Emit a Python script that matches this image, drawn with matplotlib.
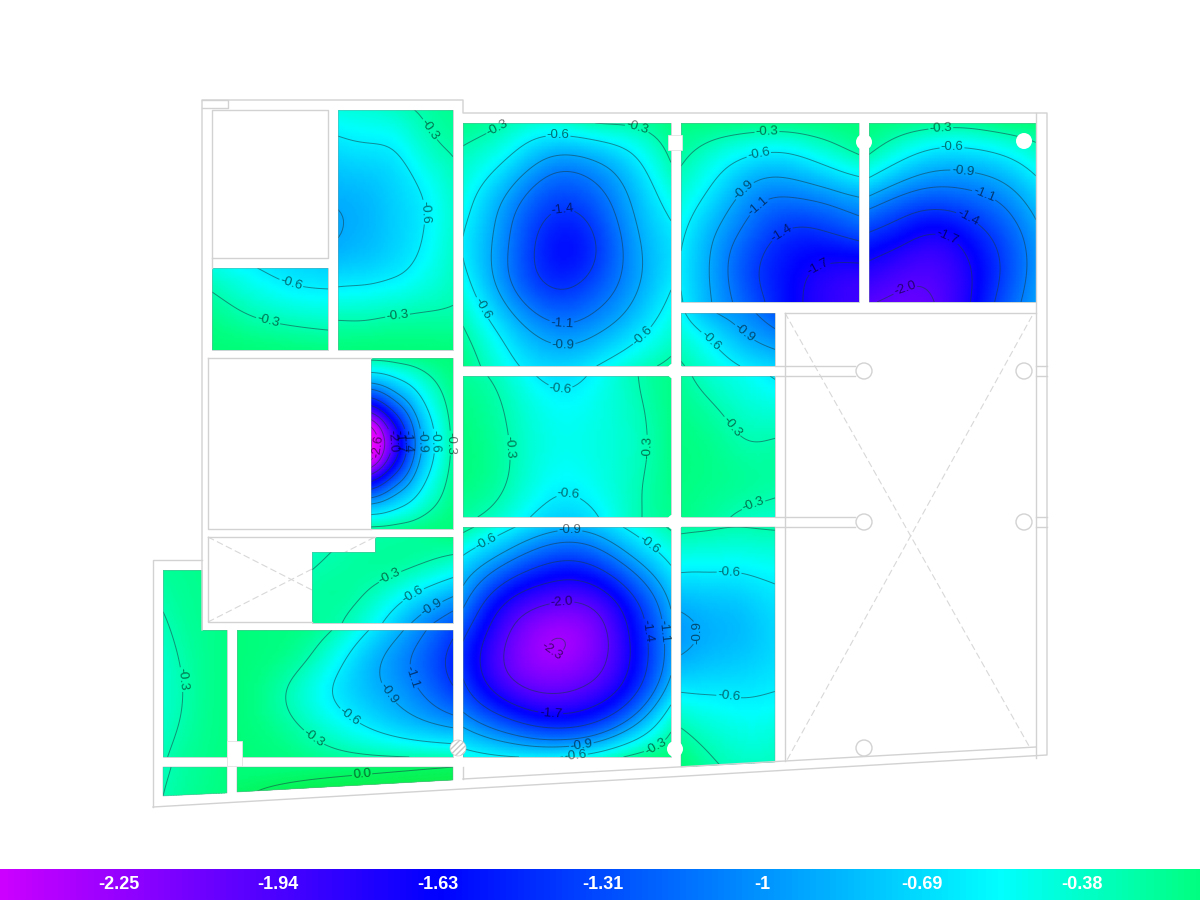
"""
Deformada de losas - plano de planta con curvas de nivel por pano
Cada pano tiene su propia malla de valores leida de la imagen.
"""
import numpy as np
import matplotlib
matplotlib.use('Agg')
import matplotlib.pyplot as plt
import matplotlib.tri as mtri
from matplotlib.colors import LinearSegmentedColormap, Normalize
from matplotlib.patches import Polygon, Circle, Rectangle

plt.rcParams['font.family'] = ['Liberation Sans', 'DejaVu Sans']

# =============================================
# 1. DATOS
# =============================================
LEVELS = [-2.9, -2.6, -2.3, -2.0, -1.7, -1.4, -1.1, -0.9, -0.6, -0.3, 0.0]
CBAR_TICKS = [-2.25, -1.94, -1.63, -1.31, -1.0, -0.69, -0.38]
CBAR_LABELS = ['-2.25', '-1.94', '-1.63', '-1.31', '-1', '-0.69', '-0.38']

A_VALUES = [[-0.45, -0.42, -0.36, -0.27, -0.20],
            [-0.68, -0.64, -0.60, -0.40, -0.28],
            [-0.85, -0.82, -0.72, -0.58, -0.38],
            [-0.92, -0.85, -0.74, -0.60, -0.40],
            [-0.75, -0.72, -0.65, -0.52, -0.36],
            [-0.38, -0.38, -0.34, -0.31, -0.29],
            [-0.12, -0.10, -0.10, -0.10, -0.10]]
B_VALUES = [[-0.45, -0.58, -0.68, -0.72],
            [-0.28, -0.42, -0.53, -0.56],
            [-0.17, -0.26, -0.32, -0.36],
            [-0.07, -0.10, -0.13, -0.14]]
C_VALUES = [[-0.18, -0.29, -0.42, -0.31, -0.27, -0.15],
            [-0.38, -0.62, -0.98, -0.98, -0.72, -0.30],
            [-0.50, -0.95, -1.33, -1.30, -0.92, -0.52],
            [-0.62, -1.05, -1.52, -1.50, -1.02, -0.68],
            [-0.50, -1.02, -1.42, -1.35, -1.00, -0.62],
            [-0.30, -0.72, -1.05, -1.03, -0.78, -0.45],
            [-0.16, -0.50, -0.72, -0.65, -0.42, -0.25]]
D_VALUES = [[-0.15, -0.15, -0.17, -0.17, -0.15, -0.13],
            [-0.27, -0.47, -0.65, -0.68, -0.52, -0.33],
            [-0.42, -0.70, -1.00, -1.08, -1.00, -0.88],
            [-0.55, -0.90, -1.20, -1.42, -1.40, -1.25],
            [-0.62, -0.98, -1.35, -1.58, -1.72, -1.75],
            [-0.58, -0.95, -1.28, -1.60, -1.80, -1.88]]
E_VALUES = [[-0.13, -0.18, -0.22, -0.22, -0.15, -0.12],
            [-0.33, -0.58, -0.75, -0.75, -0.65, -0.45],
            [-0.88, -1.10, -1.20, -1.15, -1.02, -0.75],
            [-1.38, -1.55, -1.68, -1.52, -1.27, -0.95],
            [-1.75, -1.88, -1.92, -1.72, -1.38, -1.00],
            [-1.98, -2.05, -2.00, -1.72, -1.30, -0.95]]
F_VALUES = [[-0.55, -0.88, -1.02, -1.25],
            [-0.40, -0.62, -0.85, -1.00],
            [-0.28, -0.45, -0.62, -0.72]]
G_VALUES = [[-0.24, -0.40, -0.50, -0.62],
            [-0.18, -0.27, -0.38, -0.42],
            [-0.15, -0.19, -0.28, -0.27],
            [-0.15, -0.18, -0.22, -0.25],
            [-0.17, -0.24, -0.34, -0.38]]
H_VALUES = [[-0.23, -0.38, -0.66, -0.60, -0.34, -0.18],
            [-0.16, -0.30, -0.50, -0.50, -0.37, -0.17],
            [-0.13, -0.27, -0.47, -0.47, -0.38, -0.17],
            [-0.15, -0.28, -0.52, -0.52, -0.36, -0.17],
            [-0.26, -0.42, -0.70, -0.68, -0.36, -0.20]]
I_VALUES = [[-0.25, -0.22, -0.18, -0.14, -0.10],
            [-1.00, -0.82, -0.60, -0.36, -0.18],
            [-2.10, -1.55, -1.00, -0.55, -0.23],
            [-3.00, -2.05, -1.22, -0.65, -0.26],
            [-2.10, -1.55, -1.00, -0.55, -0.23],
            [-1.00, -0.82, -0.60, -0.36, -0.18],
            [-0.25, -0.22, -0.18, -0.14, -0.10]]
J_VALUES = [[-0.22, -0.52, -0.80, -0.83, -0.55, -0.27],
            [-0.72, -1.12, -1.43, -1.44, -1.05, -0.60],
            [-1.05, -1.72, -2.00, -2.00, -1.55, -0.88],
            [-1.42, -2.00, -2.32, -2.22, -1.72, -0.98],
            [-1.40, -1.95, -2.15, -2.05, -1.65, -0.88],
            [-1.02, -1.38, -1.62, -1.55, -1.12, -0.42],
            [-0.48, -0.58, -0.62, -0.52, -0.26, -0.12]]
K_VALUES = [[-0.25, -0.28, -0.30, -0.28],
            [-0.55, -0.56, -0.56, -0.52],
            [-0.88, -0.82, -0.78, -0.68],
            [-0.95, -0.85, -0.80, -0.70],
            [-0.65, -0.65, -0.65, -0.62],
            [-0.30, -0.42, -0.48, -0.45],
            [-0.10, -0.27, -0.35, -0.33]]
L_VALUES = [[-0.38, -0.28, -0.25, -0.15],
            [-0.31, -0.24, -0.26, -0.42],
            [-0.25, -0.27, -0.55, -0.87],
            [-0.23, -0.38, -0.85, -1.25]]
M_VALUES = [[-0.10, -0.14, -0.24, -0.58, -0.95, -1.35],
            [-0.10, -0.18, -0.42, -0.80, -1.10, -1.48],
            [-0.10, -0.27, -0.55, -0.80, -1.02, -1.35],
            [-0.10, -0.22, -0.42, -0.62, -0.80, -0.95],
            [-0.08, -0.13, -0.22, -0.27, -0.30, -0.32]]
N_VALUES = [[-0.22, -0.20, -0.18, -0.16],
            [-0.31, -0.23, -0.19, -0.16],
            [-0.38, -0.28, -0.20, -0.16],
            [-0.38, -0.29, -0.20, -0.16],
            [-0.32, -0.23, -0.18, -0.15]]
O_VALUES = [[-0.33, -0.22, -0.15],
            [-0.30, -0.20, -0.14]]
P_VALUES = [[-0.10, -0.07, -0.03, 0.00],
            [-0.05, 0.00, 0.03, 0.05],
            [-0.02, 0.05, 0.07, 0.08]]

# contorno de cada pano (pixeles del plano)
A_OUTLINE = [(338, 110), (453, 110), (453, 350), (338, 350)]
B_OUTLINE = [(212, 268), (328, 268), (328, 350), (212, 350)]
C_OUTLINE = [(463, 123), (671, 123), (671, 366), (463, 366)]
D_OUTLINE = [(681, 123), (859, 123), (859, 302), (681, 302)]
E_OUTLINE = [(869, 123), (1036, 123), (1036, 302), (869, 302)]
F_OUTLINE = [(681, 313), (775, 313), (775, 366), (681, 366)]
G_OUTLINE = [(681, 376), (775, 376), (775, 517), (681, 517)]
H_OUTLINE = [(463, 376), (671, 376), (671, 517), (463, 517)]
I_OUTLINE = [(371, 358), (453, 358), (453, 529), (371, 529)]
J_OUTLINE = [(463, 527), (671, 527), (671, 757), (463, 757)]
K_OUTLINE = [(681, 527), (775, 527), (775, 762), (681, 767)]
L_OUTLINE = [(312, 552), (375, 552), (375, 537), (453, 537), (453, 623), (312, 623)]
M_OUTLINE = [(237, 630), (453, 630), (453, 757), (237, 757)]
N_OUTLINE = [(163, 570), (202, 570), (202, 630), (227, 630), (227, 757), (163, 757)]
O_OUTLINE = [(163, 767), (227, 767), (227, 793), (163, 796)]
P_OUTLINE = [(237, 767), (453, 767), (453, 780), (237, 792)]

# posicion aproximada de las etiquetas de curva
A_LABELS = [(432, 128), (426, 212), (397, 310)]
B_LABELS = [(291, 284), (269, 317)]
C_LABELS = [(498, 129), (558, 138), (634, 138), (562, 208), (562, 318), (563, 347),
            (479, 310), (637, 330)]
D_LABELS = [(767, 133), (759, 156), (742, 188), (759, 207), (780, 231), (818, 266)]
E_LABELS = [(941, 131), (952, 148), (963, 168), (983, 197), (970, 213), (948, 236),
            (904, 287)]
F_LABELS = [(707, 344), (741, 337)]
G_LABELS = [(725, 432), (752, 501)]
H_LABELS = [(515, 447), (642, 447), (560, 392), (568, 499)]
I_LABELS = [(450, 443), (435, 441), (422, 441), (410, 441), (402, 441), (392, 441), (380, 447)]
J_LABELS = [(570, 534), (490, 548), (645, 550), (562, 603), (549, 657), (551, 707),
            (640, 632), (658, 632), (581, 742), (575, 752), (655, 746)]
K_LABELS = [(729, 575), (695, 633), (728, 702)]
L_LABELS = [(393, 583), (415, 598), (433, 610)]
M_LABELS = [(411, 677), (376, 702), (347, 720), (312, 740)]
N_LABELS = [(177, 680)]
O_LABELS = []
P_LABELS = [(362, 774)]

PANELS = [(A_VALUES, A_OUTLINE, A_LABELS), (B_VALUES, B_OUTLINE, B_LABELS),
          (C_VALUES, C_OUTLINE, C_LABELS), (D_VALUES, D_OUTLINE, D_LABELS),
          (E_VALUES, E_OUTLINE, E_LABELS), (F_VALUES, F_OUTLINE, F_LABELS),
          (G_VALUES, G_OUTLINE, G_LABELS), (H_VALUES, H_OUTLINE, H_LABELS),
          (I_VALUES, I_OUTLINE, I_LABELS), (J_VALUES, J_OUTLINE, J_LABELS),
          (K_VALUES, K_OUTLINE, K_LABELS), (L_VALUES, L_OUTLINE, L_LABELS),
          (M_VALUES, M_OUTLINE, M_LABELS), (N_VALUES, N_OUTLINE, N_LABELS),
          (O_VALUES, O_OUTLINE, O_LABELS), (P_VALUES, P_OUTLINE, P_LABELS)]

# lineas de muros, tramos abiertos
WALLS = [
    [(153, 807), (153, 560), (202, 560)],
    [(202, 630), (202, 100), (463, 100), (463, 113), (1047, 113), (1047, 755), (153, 807)],
    [(212, 268), (212, 110), (328, 110), (328, 258), (212, 258)],
    [(208, 358), (371, 358)], [(208, 358), (208, 529), (371, 529)],
    [(208, 537), (375, 537)], [(208, 537), (208, 622), (312, 622)],
    [(1036, 113), (1036, 758)],
    [(785, 313), (1036, 313)], [(785, 313), (785, 761)],
    [(463, 779), (1036, 747)], [(463, 767), (463, 779)],
    [(775, 366), (855, 366)], [(775, 376), (855, 376)],
    [(775, 517), (855, 517)], [(775, 527), (855, 527)],
    [(1036, 366), (1047, 366)], [(1036, 376), (1047, 376)],
    [(1036, 517), (1047, 517)], [(1036, 527), (1047, 527)],
    [(202, 100), (228, 100), (228, 108), (202, 108)],
]
DASHED = [
    [(785, 313), (1029, 746)], [(1032, 316), (787, 760)],
    [(208, 537), (312, 590)], [(208, 622), (375, 537)],
]
HOLLOW_COLUMNS = [(864, 371), (864, 522), (1024, 371), (1024, 522), (864, 748)]
WHITE_COLUMNS = [(864, 142), (1024, 141), (675, 749), (675, 371), (675, 522)]
WHITE_SQUARES = [(668, 135, 14, 15), (227, 741, 15, 25)]

# =============================================
# 2. ESCALA DE COLOR
# =============================================
# x=0 de la barra son -2.48 y x=1200 son -0.15
norm = Normalize(vmin=-3.0, vmax=0.1)
cmap = LinearSegmentedColormap.from_list('deformada', [
    (0.00, (1.0, 0.0, 1.0)),
    (norm(-2.48), (0.8, 0.0, 1.0)),
    (norm(-1.63), (0.0, 0.0, 1.0)),
    (norm(-0.535), (0.0, 1.0, 1.0)),
    (norm(-0.15), (0.0, 1.0, 0.51)),
    (norm(-0.05), (0.0, 0.99, 0.46)),
    (1.00, (0.05, 0.93, 0.25)),
])


def smooth(field, sigma):
    # suavizado gaussiano separable, para que las curvas no salgan poligonales
    half = int(3 * sigma)
    kernel = np.exp(-0.5 * (np.arange(-half, half + 1) / sigma) ** 2)
    kernel /= kernel.sum()
    out = np.pad(field, half, mode='reflect', reflect_type='odd')
    for axis in (0, 1):
        out = np.apply_along_axis(lambda m: np.convolve(m, kernel, mode='same'), axis, out)
    return out[half:-half, half:-half]


# =============================================
# 3. PLANO
# =============================================
fig = plt.figure(figsize=(12, 9), dpi=100)
ax = fig.add_axes([0, 0, 1, 1])
ax.set_xlim(0, 1200)
ax.set_ylim(900, 0)
ax.axis('off')

SAMPLES = 12  # muestras por celda de la malla
for values, outline, labels in PANELS:
    z = np.array(values, dtype=float)
    px = [p[0] for p in outline]
    py = [p[1] for p in outline]
    gx, gy = np.meshgrid(np.linspace(min(px), max(px), z.shape[1]),
                         np.linspace(min(py), max(py), z.shape[0]))
    tri = mtri.Triangulation(gx.ravel(), gy.ravel())
    interp = mtri.CubicTriInterpolator(tri, z.ravel(), kind='min_E')

    fx, fy = np.meshgrid(
        np.linspace(min(px) + 0.01, max(px) - 0.01, (z.shape[1] - 1) * SAMPLES + 1),
        np.linspace(min(py) + 0.01, max(py) - 0.01, (z.shape[0] - 1) * SAMPLES + 1))
    fz = smooth(np.ma.filled(interp(fx, fy), -0.3), SAMPLES / 4)

    clip = Polygon(outline, closed=True, transform=ax.transData)
    mesh = ax.pcolormesh(fx, fy, fz, shading='gouraud', cmap=cmap, norm=norm, zorder=1)
    mesh.set_clip_path(clip)
    cs = ax.contour(fx, fy, fz, levels=LEVELS, colors='#1a3a44', linewidths=0.7,
                    linestyles='solid', alpha=0.55, zorder=2)
    cs.set_clip_path(clip)
    if labels:
        ax.clabel(cs, manual=labels, fmt='%.1f', fontsize=9.5, colors='black',
                  inline=True, inline_spacing=1)
    ax.add_patch(Polygon(outline, closed=True, fill=False, edgecolor='#7f9a9a',
                         linewidth=0.5, alpha=0.6, zorder=3))

for wall in WALLS:
    ax.plot([p[0] for p in wall], [p[1] for p in wall], color='#d2d2d2', lw=1.0, zorder=4)
for wall in DASHED:
    ax.plot([p[0] for p in wall], [p[1] for p in wall], color='#d8d8d8', lw=0.8,
            ls=(0, (6, 3)), zorder=0)

for cx, cy in HOLLOW_COLUMNS:
    ax.add_patch(Circle((cx, cy), 8, facecolor='white', edgecolor='#d2d2d2', lw=1.0, zorder=5))
for cx, cy in WHITE_COLUMNS:
    ax.add_patch(Circle((cx, cy), 8, facecolor='white', edgecolor='none', zorder=5))
for rx, ry, rw, rh in WHITE_SQUARES:
    ax.add_patch(Rectangle((rx, ry), rw, rh, facecolor='white', edgecolor='#e2e2e2', lw=0.6, zorder=5))
ax.add_patch(Circle((458, 748), 8, facecolor='white', edgecolor='#c8c8c8', hatch='//////',
                    lw=0.5, zorder=5))

# =============================================
# 4. BARRA DE COLOR
# =============================================
cax = fig.add_axes([0, 0, 1, 31 / 900])
gradient = np.linspace(-2.48, -0.15, 600).reshape(1, -1)
cax.imshow(gradient, aspect='auto', cmap=cmap, norm=norm, extent=[-2.48, -0.15, 0, 1])
cax.axis('off')
for value, label in zip(CBAR_TICKS, CBAR_LABELS):
    cax.text(value, 0.5, label, color='white', fontsize=13, fontweight='bold',
             ha='center', va='center')

fig.savefig('out.png', dpi=100)
